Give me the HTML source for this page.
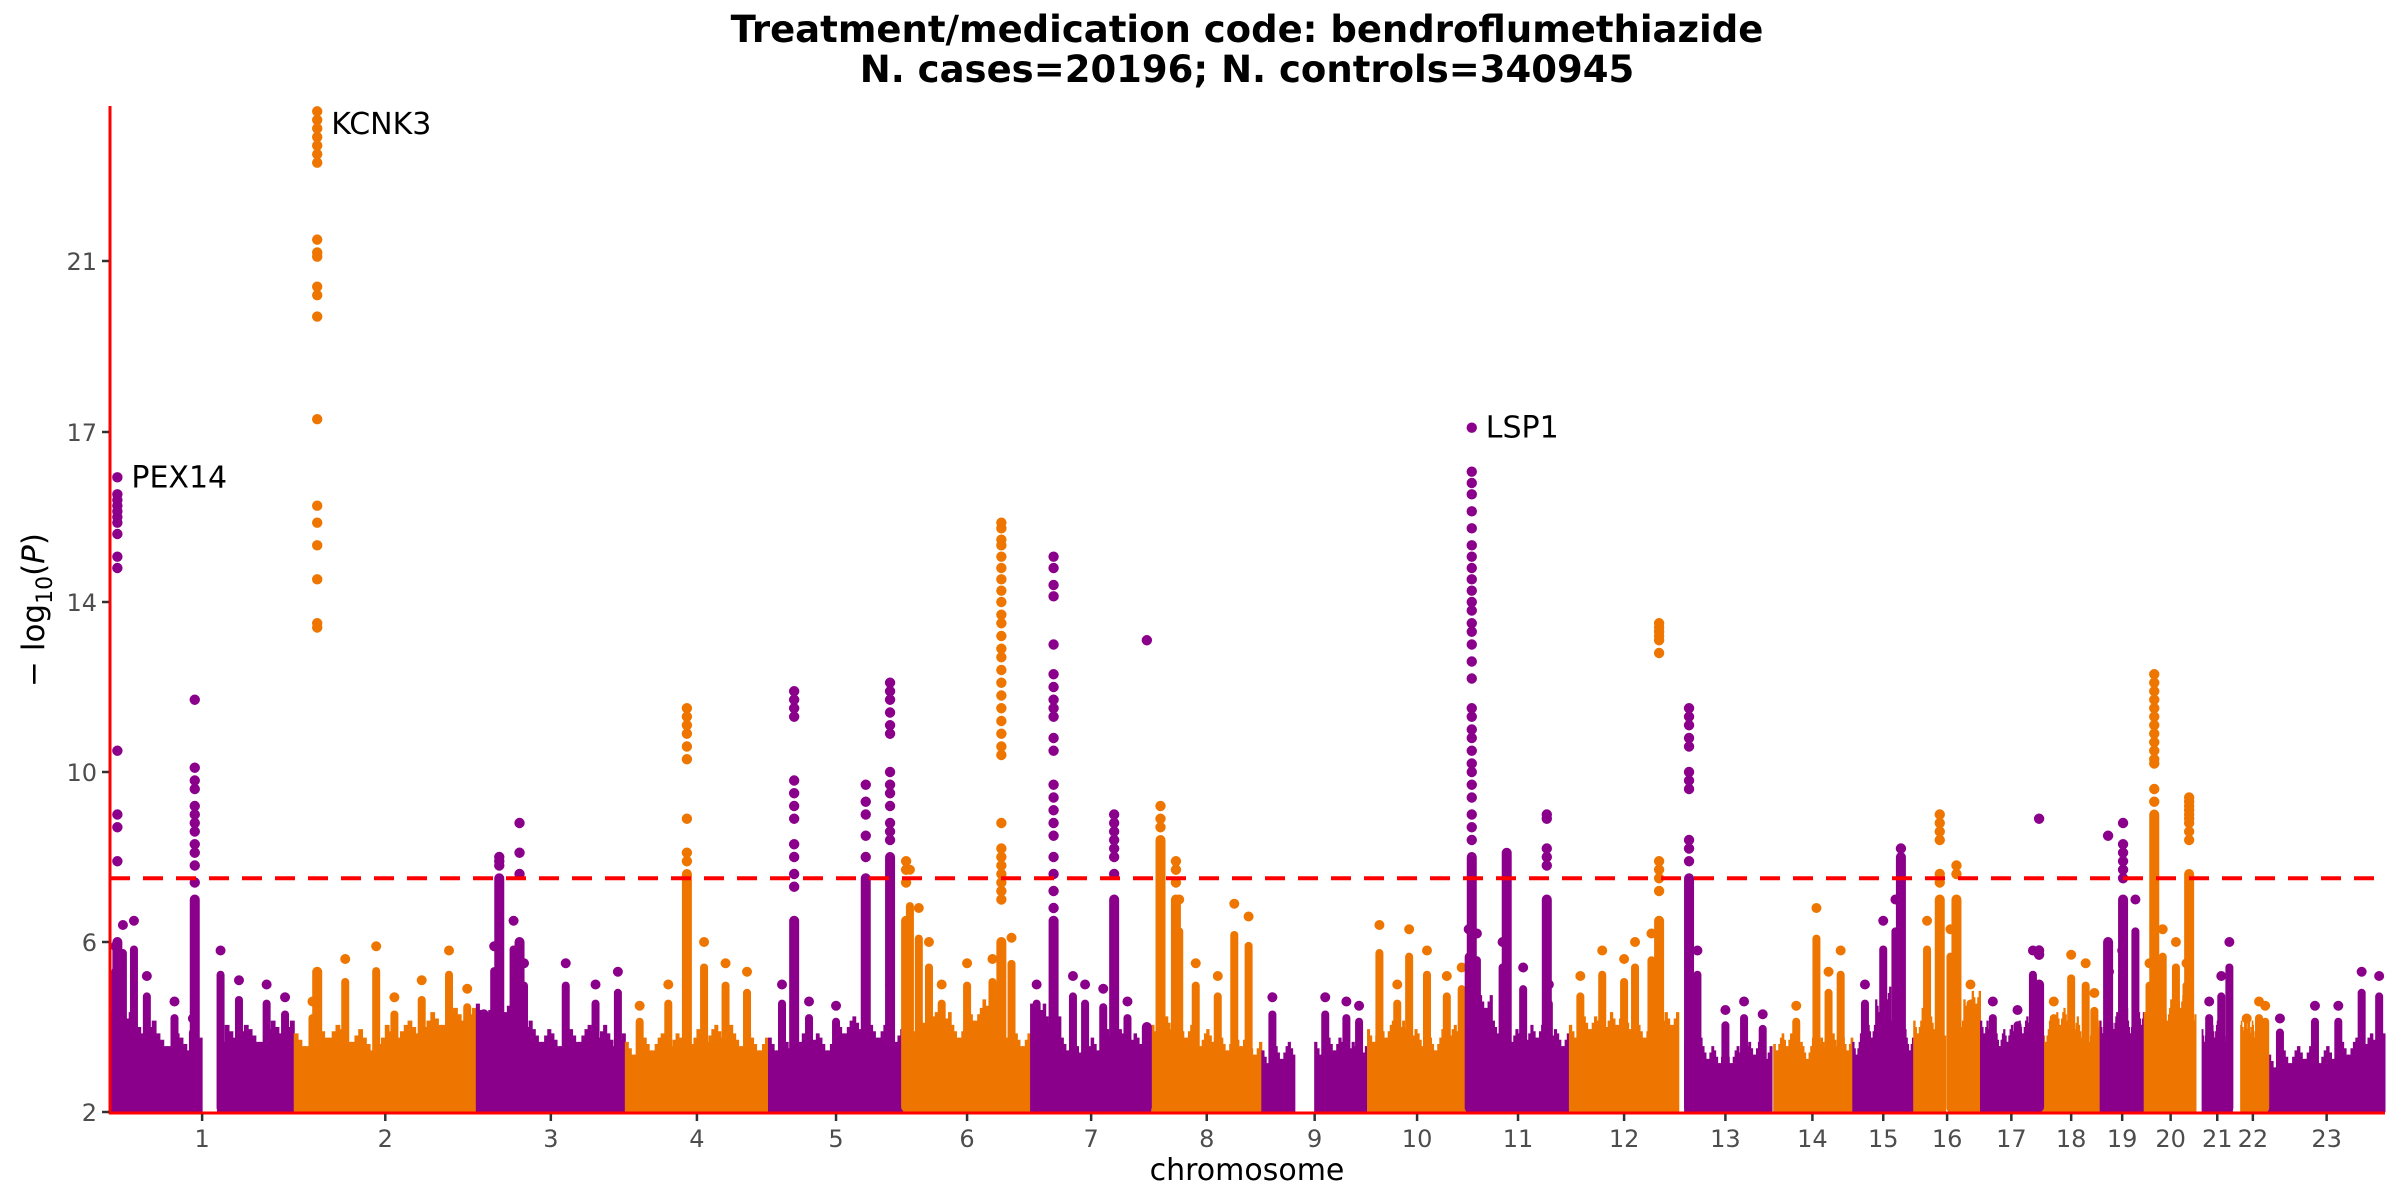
<!DOCTYPE html>
<html><head><meta charset="utf-8">
<style>
html,body{margin:0;padding:0;background:#fff;}
svg{display:block;font-family:"DejaVu Sans","Liberation Sans",sans-serif;}
</style></head>
<body>
<svg id="chart" width="2400" height="1200" viewBox="0 0 2400 1200">
<text x="1247" y="42" text-anchor="middle" font-size="37" font-weight="bold" fill="#000">Treatment/medication code: bendroflumethiazide</text>
<text x="1247" y="82" text-anchor="middle" font-size="37" font-weight="bold" fill="#000">N. cases=20196; N. controls=340945</text>
<g id="marks"></g>
<g id="axes"></g>
<text x="1247" y="1180" text-anchor="middle" font-size="30" fill="#000">chromosome</text>
<text transform="translate(44,610) rotate(-90)" text-anchor="middle" font-size="31" fill="#000">− log<tspan font-size="22" dy="8">10</tspan><tspan dy="-8">(</tspan><tspan font-style="italic">P</tspan>)</text>
</svg>
<script>
const chroms = ['1','2','3','4','5','6','7','8','9','10','11','12','13','14','15','16','17','18','19','20','21','22','23'];
const chrLen = [251,248,203,195,184,173,165,150,144,135,140,149,127,110,83,91,84,79,60,72,55,42,159];
const yTicks = [2,6,10,14,17,21];
const threshold = 7.5;
const gapChr = [1,9,13,14,16,21,21,22,20];
const gapStart = [0.51,0.32,0,0,0.48,0,0.88,0,0.97];
const gapEnd = [0.58,0.49,0.06,0.02,0.53,0.12,1,0.1,1];
const bandTops = [
[4.2,4.0,3.7,3.6,3.5,3.9,3.8,4.0],[3.7,3.9,3.8,3.6,3.9,4.0,4.2,4.3],[4.4,4.5,4.0,3.8,3.7,3.8,3.9,3.7],
[3.5,3.6,3.7,3.6,3.8,3.9,3.7,3.6],[3.6,3.5,3.7,3.6,4.0,4.1,3.9,3.8],[3.9,4.1,4.2,3.9,4.3,4.5,3.9,3.7],
[4.4,4.1,3.6,3.4,3.6,3.8,3.7,3.6],[3.9,4.1,3.9,3.7,3.8,3.6,3.7,3.5],[3.3,3.4,3.5,3.4,3.5,3.6,3.5,3.4],
[3.8,3.9,4.0,3.8,3.7,3.6,3.8,3.9],[4.3,4.6,4.0,3.8,3.7,3.9,3.8,3.7],[3.9,4.1,4.0,4.2,4.1,3.9,4.0,4.2],
[3.8,3.6,3.4,3.3,3.3,3.4,3.5,3.4],[3.6,3.7,3.5,3.4,3.6,3.5,3.7,3.6],[3.5,3.7,3.9,4.5,4.8,4.0,3.8,3.6],
[4.0,4.3,4.1,3.8,3.7,4.0,4.5,4.7],[4.0,3.8,3.7,3.8,3.9,4.0,4.1,4.0],[3.8,4.0,4.2,4.3,4.1,3.9,3.8,4.0],
[4.0,4.3,4.1,4.2,4.3,4.0,4.1,4.2],[4.2,4.5,4.4,4.3,4.5,4.6,4.4,4.3],[3.6,3.8,3.7,3.9,4.0,3.8,3.9,4.1],
[3.9,4.0,4.1,4.0,3.9,3.8,3.7,3.6],[3.2,3.3,3.4,3.3,3.4,3.5,3.6,3.7]];
const spikeChr = [1,1,1,1,1,1,1,1,1,1, 2,2,2,2,2,2,2, 3,3,3,3,3,3,3, 4,4,4,4,4, 5,5,5,5, 6,6,6,6,6,6,6, 7,7,7,7,7, 8,8,8,8,8, 9,9,9,9, 10,10,10,10,10,10, 11,11,11,11,11, 12,12,12,12,12, 13,13,13,13, 14,14,14,14, 15,15,15, 16,16,16, 17,17,17, 18,18,18,18, 19,19,19, 20,20,20,20, 21,21,21, 22,22,22, 23,23,23,23,23];
const spikeFrac = [0.03,0.07,0.13,0.2,0.35,0.45,0.6,0.7,0.85,0.95, 0.1,0.28,0.45,0.55,0.7,0.85,0.95, 0.05,0.12,0.25,0.32,0.6,0.8,0.95, 0.1,0.3,0.55,0.7,0.85, 0.1,0.3,0.5,0.9, 0.05,0.12,0.2,0.3,0.5,0.7,0.85, 0.05,0.35,0.45,0.6,0.8, 0.25,0.4,0.6,0.75,0.88, 0.1,0.6,0.8,0.92, 0.12,0.3,0.42,0.6,0.8,0.95, 0.02,0.1,0.35,0.55,0.8, 0.1,0.3,0.5,0.6,0.75, 0.2,0.5,0.7,0.9, 0.3,0.55,0.7,0.85, 0.2,0.5,0.7, 0.2,0.55,0.85, 0.2,0.6,0.85, 0.2,0.5,0.75,0.9, 0.2,0.5,0.8, 0.1,0.35,0.6,0.8, 0.3,0.6,0.8, 0.3,0.7,0.9, 0.1,0.4,0.6,0.8,0.95];
const spikeTop = [5.9,6.4,6.5,5.2,4.6,4.2,5.8,5.1,5.0,4.7, 4.6,5.6,5.9,4.7,5.1,5.8,4.9, 4.3,5.9,6.5,5.5,5.5,5.0,5.3, 4.5,5.0,6.0,5.5,5.3, 5.0,4.6,4.5,5.0, 7.7,6.8,6.0,5.0,5.5,5.6,6.1, 5.0,5.2,5.0,4.9,4.6, 7.0,5.5,5.2,6.9,6.6, 4.7,4.7,4.6,4.5, 6.4,5.0,6.3,5.8,5.2,5.4, 6.3,6.2,6.0,5.4,5.0, 5.2,5.8,5.6,6.0,6.2, 5.8,4.4,4.6,4.3, 4.5,6.8,5.3,5.8, 5.0,6.5,7.0, 6.5,6.3,5.0, 4.6,4.4,5.8, 4.6,5.7,5.5,4.8, 5.3,5.8,7.0, 5.5,6.3,6.0,5.5, 4.6,5.2,6.0, 4.2,4.6,4.5, 4.2,4.5,4.5,5.3,5.2];
const peakChr = [1,1,2,3,3,4,5,5,5,6,6,7,7,7,8,8,11,11,11,12,13,15,16,16,17,19,19,20,20];
const peakFrac = [0.04,0.46,0.126,0.154,0.29,0.43,0.19,0.72,0.90,0.02,0.77,0.19,0.69,0.96,0.08,0.22,0.05,0.39,0.78,0.82,0.11,0.79,0.39,0.64,0.95,0.18,0.52,0.19,0.85];
const peakCol = [6.0,7.0,5.3,7.5,6.0,7.6,6.5,7.5,8.0,6.5,6.0,6.5,7.0,4.0,8.4,7.0,8.0,8.1,7.0,6.5,7.5,8.0,7.0,7.0,5.0,6.0,7.0,9.0,7.6];
const peakVals = [
[16.2,15.9,15.8,15.7,15.6,15.5,15.4,15.2,14.8,14.6,10.5,9.0,8.7,7.9],
[11.7,10.1,9.8,9.6,9.2,9.0,8.8,8.6,8.3,8.1,7.8,7.4],
[24.5,24.3,24.1,23.9,23.7,23.5,23.3,21.5,21.2,21.1,20.4,20.2,19.7,17.3,15.7,15.4,15.0,14.4,13.5,13.4],
[8.0,7.9,7.8],[8.8,8.1,7.6],[11.5,11.3,11.1,10.9,10.6,10.3,8.9,8.1,7.9],
[11.9,11.7,11.5,11.3,9.8,9.5,9.2,8.9,8.3,8.0,7.6,7.3],[9.7,9.3,9.0,8.5,8.0],
[12.1,11.9,11.7,11.4,11.1,10.9,10.0,9.7,9.5,9.2,8.8,8.6,8.4],[7.9,7.7,7.4],
[15.4,15.3,15.1,15.0,14.8,14.6,14.4,14.2,14.0,13.7,13.5,13.2,12.9,12.7,12.4,12.1,11.8,11.5,11.2,10.9,10.6,10.4,8.8,8.2,8.0,7.8,7.6,7.4,7.2,7.0],
[14.8,14.6,14.3,14.1,13.0,12.3,12.0,11.7,11.5,11.3,10.8,10.5,9.7,9.4,9.1,8.8,8.5,8.0,7.6,7.2,6.8],
[9.0,8.8,8.6,8.4,8.2,8.0,7.6],[13.1],[9.2,8.9,8.7],[7.9,7.7,7.4],
[17.1,16.3,16.1,15.9,15.6,15.3,15.0,14.8,14.6,14.4,14.2,14.0,13.8,13.5,13.3,13.0,12.6,12.2,11.5,11.3,11.0,10.8,10.5,10.2,10.0,9.7,9.4,9.0,8.7,8.4],
[],[9.0,8.9,8.2,8.0,7.8],[13.5,13.4,13.3,13.2,13.1,12.8,7.9,7.7,7.5,7.2],
[11.5,11.3,11.1,10.8,10.6,10.0,9.8,9.6,8.4,8.2,7.9],[8.2],[9.0,8.8,8.6,8.4,7.6,7.4],[7.8,7.6],[8.9,5.8,5.7],[8.5],
[8.8,8.3,8.1,7.9,7.7,7.5],[12.3,12.1,11.9,11.7,11.5,11.3,11.1,10.9,10.7,10.5,10.3,10.2,9.6,9.3],
[9.4,9.3,9.2,9.1,9.0,8.9,8.8,8.6,8.4]];
const labelChr = [1,2,11];
const labelFrac = [0.04,0.126,0.05];
const labelVal = [16.2,24.2,17.1];
const labelText = ['PEX14','KCNK3','LSP1'];

const NS='http://www.w3.org/2000/svg';
const X0=110, X1=2385;
const tickPx=[1112,942,772,602,432,261];
const total=chrLen.reduce((a,b)=>a+b,0);
const chrStart=[]; {let s=0; for(const l of chrLen){chrStart.push(s); s+=l;}}
function xScale(ci,frac){return X0+(chrStart[ci]+frac*chrLen[ci])/total*(X1-X0);}
function yScale(v){
  for(let i=0;i<yTicks.length-1;i++){
    if(v<=yTicks[i+1]||i===yTicks.length-2){
      return tickPx[i]+(v-yTicks[i])/(yTicks[i+1]-yTicks[i])*(tickPx[i+1]-tickPx[i]);
    }
  }
}
const COL=['#8B008B','#EE7600'];
const marks=document.getElementById('marks');
const axes=document.getElementById('axes');
function mk(tag,attrs,parent){const e=document.createElementNS(NS,tag);for(const k in attrs)e.setAttribute(k,attrs[k]);parent.appendChild(e);return e;}
function inGap(ci,f){for(let i=0;i<gapChr.length;i++){if(gapChr[i]===ci+1&&f>=gapStart[i]&&f<gapEnd[i])return true;}return false;}

chroms.forEach((c,ci)=>{
  const g=mk('g',{fill:COL[ci%2]},marks);
  
  
  const bins=bandTops[ci], nb=bins.length, sub=6;
  for(let b=0;b<nb;b++){
    for(let s=0;s<sub;s++){
      const f0=(b+s/sub)/nb, f1=(b+(s+1)/sub)/nb;
      if(inGap(ci,(f0+f1)/2)) continue;
      const xa=xScale(ci,f0), xb=xScale(ci,f1);
      const v=bins[b]+((s%3)-1)*0.15*(s%2?1:-1);
      const r=mk('rect',{x:xa-0.5,y:yScale(v),width:xb-xa+1,height:yScale(2)-yScale(v)},g);
      
      
    }
  }
});
for(let i=0;i<spikeChr.length;i++){
  const ci=spikeChr[i]-1;
  const x=xScale(ci,spikeFrac[i]);
  const top=spikeTop[i];
  const mid=2+(top-2)*0.85;
  const r=mk('rect',{x:x-4,y:yScale(mid)-4,width:8,height:yScale(2)-yScale(mid)+4,rx:4,fill:COL[ci%2]},marks);
  
  
  const d=mk('circle',{cx:x,cy:yScale(top),r:5,fill:COL[ci%2]},marks);
  
  
}
for(let i=0;i<peakChr.length;i++){
  const ci=peakChr[i]-1;
  const x=xScale(ci,peakFrac[i]);
  const col=COL[ci%2];
  const r=mk('rect',{x:x-5,y:yScale(peakCol[i])-5,width:10,height:yScale(2)-yScale(peakCol[i])+5,rx:5,fill:col},marks);
  
  
  peakVals[i].forEach(v=>{
    const p=mk('circle',{cx:x,cy:yScale(v),r:5.2,fill:col},marks);
    
    
  });
}
for(let i=0;i<labelText.length;i++){
  const t=mk('text',{x:xScale(labelChr[i]-1,labelFrac[i])+14,y:yScale(labelVal[i])+10,'font-size':30,fill:'#000'},marks);
  t.textContent=labelText[i];
  
  
}
const th=mk('line',{x1:X0,x2:X1,y1:yScale(threshold),y2:yScale(threshold),stroke:'#FF0000','stroke-width':4,'stroke-dasharray':'20 13'},axes);


const ya=mk('line',{x1:X0,x2:X0,y1:106,y2:1114,stroke:'#FF0000','stroke-width':3},axes);


const xa=mk('line',{x1:X0-1,x2:X1,y1:1113,y2:1113,stroke:'#FF0000','stroke-width':3},axes);


yTicks.forEach(v=>{
  const y=yScale(v);
  const l=mk('line',{x1:X0-8,x2:X0-1,y1:y,y2:y,stroke:'#333','stroke-width':2.5},axes);
  
  
  const t=mk('text',{x:X0-13,y:y+9,'text-anchor':'end','font-size':24,fill:'#4d4d4d'},axes);
  t.textContent=v;
  
  
});
chroms.forEach((c,ci)=>{
  const x=xScale(ci,0.5);
  const l=mk('line',{x1:x,x2:x,y1:1114,y2:1121,stroke:'#333','stroke-width':2.5},axes);
  
  
  const t=mk('text',{x:x,y:1147,'text-anchor':'middle','font-size':24,fill:'#4d4d4d'},axes);
  t.textContent=c;
  
  
});
</script>
</body></html>
